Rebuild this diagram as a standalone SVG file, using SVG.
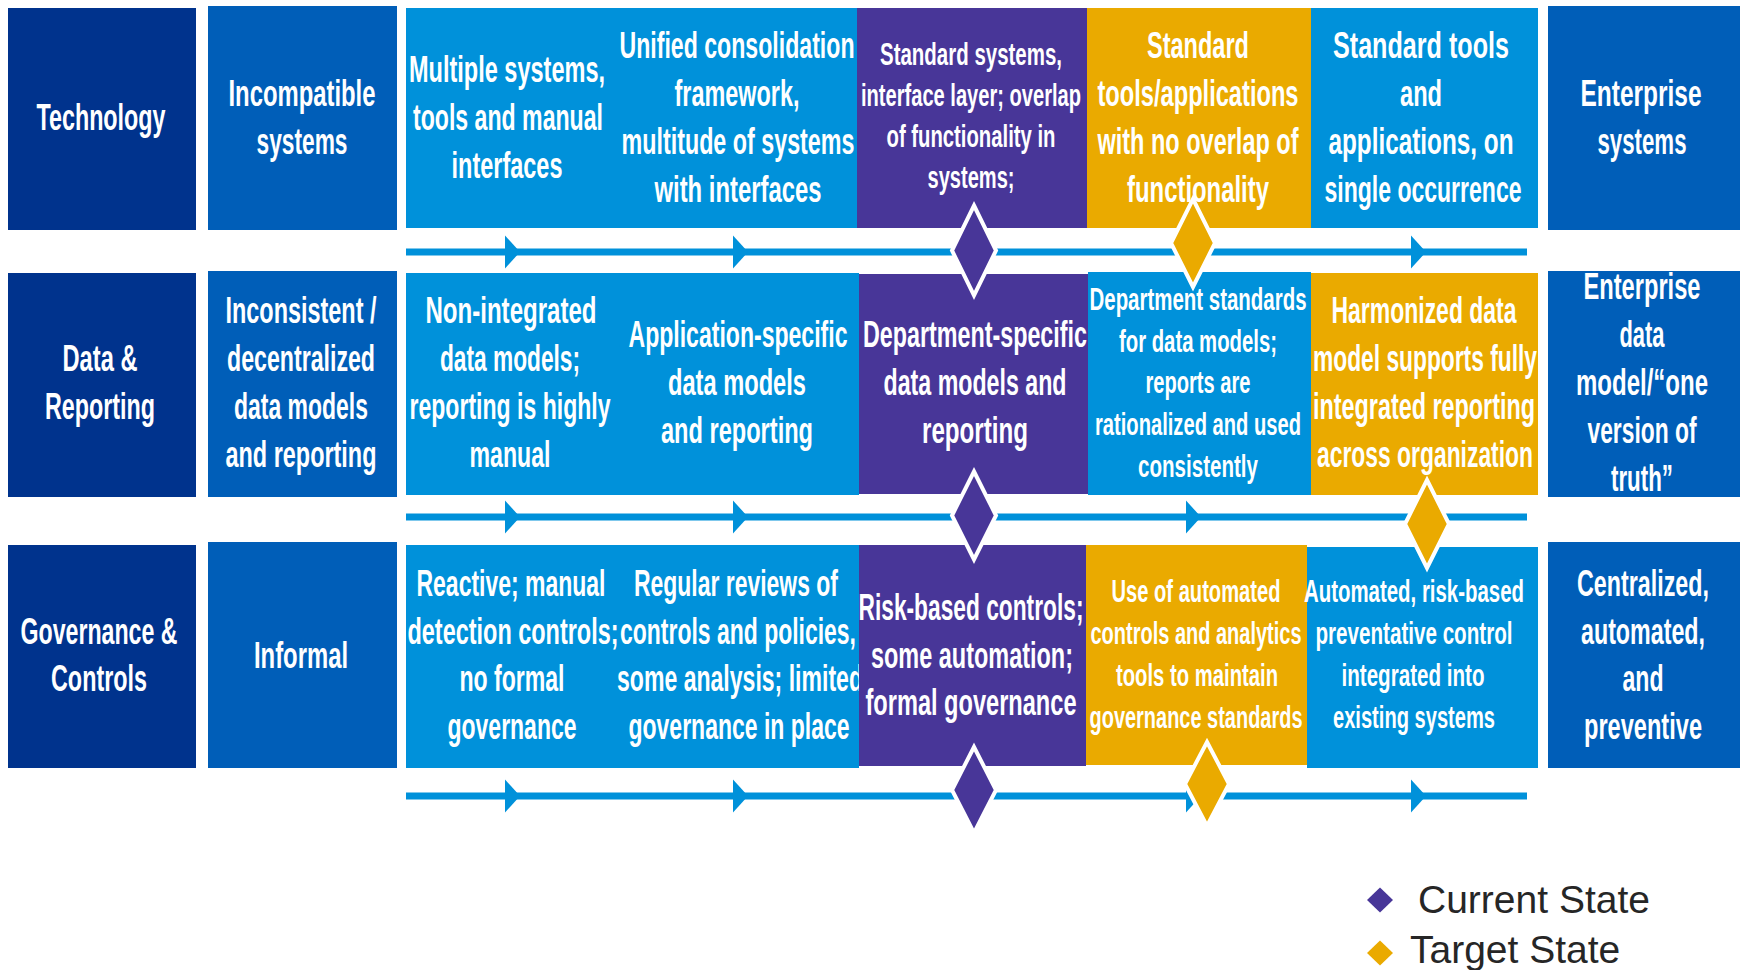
<svg xmlns="http://www.w3.org/2000/svg" xmlns:xlink="http://www.w3.org/1999/xlink" width="1743" height="970" viewBox="0 0 1743 970">
<style>
.navy{fill:#00338D}
.mid{fill:#005EB8}
.lb{fill:#0091DA}
.pu{fill:#483698}
.ye{fill:#EAAA00}
.t{font-family:"Liberation Sans Narrow","Liberation Sans","DejaVu Sans Condensed",sans-serif;font-weight:bold;font-size:36px;fill:#fff;text-anchor:middle}
.s{font-size:31px}
.line{stroke:#0091DA;stroke-width:7;fill:none}
.arrow{fill:#0091DA}
.cur{fill:#483698;stroke:#fff;stroke-width:4;stroke-linejoin:miter}
.tgt{fill:#EAAA00;stroke:#fff;stroke-width:4;stroke-linejoin:miter}
.lg{font-family:"Liberation Sans",Arial,sans-serif;font-size:39px;fill:#262626}
</style>
<defs>
<path id="arrow" d="M0,-16.5 L15,0 L0,16.5 Z"/>
</defs>
<rect width="1743" height="970" fill="#fff"/>

<!-- Row 1: Technology -->
<g id="tech-category">
<rect class="navy" x="8" y="8" width="188" height="222"/>
<text class="t" x="101" y="130" textLength="129" lengthAdjust="spacingAndGlyphs">Technology</text>
</g>
<g id="tech-baseline">
<rect class="mid" x="208" y="6" width="189" height="224"/>
<text class="t" x="302" y="106" textLength="147" lengthAdjust="spacingAndGlyphs">Incompatible</text>
<text class="t" x="302" y="154" textLength="91" lengthAdjust="spacingAndGlyphs">systems</text>
</g>
<g id="tech-stage1">
<rect class="lb" x="406" y="8" width="451" height="220"/>
<text class="t" x="507" y="82" textLength="196" lengthAdjust="spacingAndGlyphs">Multiple systems,</text>
<text class="t" x="508" y="130" textLength="190" lengthAdjust="spacingAndGlyphs">tools and manual</text>
<text class="t" x="507" y="178" textLength="111" lengthAdjust="spacingAndGlyphs">interfaces</text>
</g>
<g id="tech-stage2">
<text class="t" x="737" y="58" textLength="235" lengthAdjust="spacingAndGlyphs">Unified consolidation</text>
<text class="t" x="737" y="106" textLength="125" lengthAdjust="spacingAndGlyphs">framework,</text>
<text class="t" x="738" y="154" textLength="233" lengthAdjust="spacingAndGlyphs">multitude of systems</text>
<text class="t" x="738" y="202" textLength="167" lengthAdjust="spacingAndGlyphs">with interfaces</text>
</g>
<g id="tech-stage3">
<rect class="pu" x="857" y="8" width="230" height="220"/>
<text class="t s" x="971" y="65" textLength="182" lengthAdjust="spacingAndGlyphs">Standard systems,</text>
<text class="t s" x="971" y="106" textLength="220" lengthAdjust="spacingAndGlyphs">interface layer; overlap</text>
<text class="t s" x="971" y="147" textLength="169" lengthAdjust="spacingAndGlyphs">of functionality in</text>
<text class="t s" x="971" y="188" textLength="87" lengthAdjust="spacingAndGlyphs">systems;</text>
</g>
<g id="tech-stage4">
<rect class="ye" x="1087" y="8" width="224" height="220"/>
<text class="t" x="1198" y="58" textLength="102" lengthAdjust="spacingAndGlyphs">Standard</text>
<text class="t" x="1198" y="106" textLength="201" lengthAdjust="spacingAndGlyphs">tools/applications</text>
<text class="t" x="1198" y="154" textLength="201" lengthAdjust="spacingAndGlyphs">with no overlap of</text>
<text class="t" x="1198" y="202" textLength="142" lengthAdjust="spacingAndGlyphs">functionality</text>
</g>
<g id="tech-stage5">
<rect class="lb" x="1311" y="8" width="227" height="220"/>
<text class="t" x="1421" y="58" textLength="176" lengthAdjust="spacingAndGlyphs">Standard tools</text>
<text class="t" x="1421" y="106" textLength="42" lengthAdjust="spacingAndGlyphs">and</text>
<text class="t" x="1421" y="154" textLength="185" lengthAdjust="spacingAndGlyphs">applications, on</text>
<text class="t" x="1423" y="202" textLength="197" lengthAdjust="spacingAndGlyphs">single occurrence</text>
</g>
<g id="tech-target">
<rect class="mid" x="1548" y="6" width="192" height="224"/>
<text class="t" x="1641" y="106" textLength="121" lengthAdjust="spacingAndGlyphs">Enterprise</text>
<text class="t" x="1642" y="154" textLength="89" lengthAdjust="spacingAndGlyphs">systems</text>
</g>

<!-- Row 2: Data & Reporting -->
<g id="data-category">
<rect class="navy" x="8" y="273" width="188" height="224"/>
<text class="t" x="100" y="371" textLength="75" lengthAdjust="spacingAndGlyphs">Data &amp;</text>
<text class="t" x="100" y="419" textLength="110" lengthAdjust="spacingAndGlyphs">Reporting</text>
</g>
<g id="data-baseline">
<rect class="mid" x="208" y="271" width="189" height="226"/>
<text class="t" x="301" y="323" textLength="151" lengthAdjust="spacingAndGlyphs">Inconsistent /</text>
<text class="t" x="301" y="371" textLength="148" lengthAdjust="spacingAndGlyphs">decentralized</text>
<text class="t" x="301" y="419" textLength="134" lengthAdjust="spacingAndGlyphs">data models</text>
<text class="t" x="301" y="467" textLength="151" lengthAdjust="spacingAndGlyphs">and reporting</text>
</g>
<g id="data-stage1">
<rect class="lb" x="406" y="273" width="453" height="222"/>
<text class="t" x="511" y="323" textLength="171" lengthAdjust="spacingAndGlyphs">Non-integrated</text>
<text class="t" x="510" y="371" textLength="140" lengthAdjust="spacingAndGlyphs">data models;</text>
<text class="t" x="510" y="419" textLength="201" lengthAdjust="spacingAndGlyphs">reporting is highly</text>
<text class="t" x="510" y="467" textLength="81" lengthAdjust="spacingAndGlyphs">manual</text>
</g>
<g id="data-stage2">
<text class="t" x="738" y="347" textLength="219" lengthAdjust="spacingAndGlyphs">Application-specific</text>
<text class="t" x="737" y="395" textLength="138" lengthAdjust="spacingAndGlyphs">data models</text>
<text class="t" x="737" y="443" textLength="152" lengthAdjust="spacingAndGlyphs">and reporting</text>
</g>
<g id="data-stage3">
<rect class="pu" x="859" y="274" width="229" height="220"/>
<text class="t" x="975" y="347" textLength="224" lengthAdjust="spacingAndGlyphs">Department-specific</text>
<text class="t" x="975" y="395" textLength="183" lengthAdjust="spacingAndGlyphs">data models and</text>
<text class="t" x="975" y="443" textLength="106" lengthAdjust="spacingAndGlyphs">reporting</text>
</g>
<g id="data-stage4">
<rect class="lb" x="1088" y="272" width="223" height="223"/>
<text class="t s" x="1198" y="310" textLength="217" lengthAdjust="spacingAndGlyphs">Department standards</text>
<text class="t s" x="1198" y="352" textLength="158" lengthAdjust="spacingAndGlyphs">for data models;</text>
<text class="t s" x="1198" y="393" textLength="105" lengthAdjust="spacingAndGlyphs">reports are</text>
<text class="t s" x="1198" y="435" textLength="206" lengthAdjust="spacingAndGlyphs">rationalized and used</text>
<text class="t s" x="1198" y="477" textLength="120" lengthAdjust="spacingAndGlyphs">consistently</text>
</g>
<g id="data-stage5">
<rect class="ye" x="1311" y="273" width="227" height="222"/>
<text class="t" x="1424" y="323" textLength="185" lengthAdjust="spacingAndGlyphs">Harmonized data</text>
<text class="t" x="1425" y="371" textLength="224" lengthAdjust="spacingAndGlyphs">model  supports fully</text>
<text class="t" x="1424" y="419" textLength="222" lengthAdjust="spacingAndGlyphs">integrated reporting</text>
<text class="t" x="1425" y="467" textLength="216" lengthAdjust="spacingAndGlyphs">across organization</text>
</g>
<g id="data-target">
<rect class="mid" x="1548" y="271" width="192" height="226"/>
<text class="t" x="1642" y="299" textLength="117" lengthAdjust="spacingAndGlyphs">Enterprise</text>
<text class="t" x="1642" y="347" textLength="45" lengthAdjust="spacingAndGlyphs">data</text>
<text class="t" x="1642" y="395" textLength="132" lengthAdjust="spacingAndGlyphs">model/“one</text>
<text class="t" x="1642" y="443" textLength="109" lengthAdjust="spacingAndGlyphs">version of</text>
<text class="t" x="1642" y="491" textLength="62" lengthAdjust="spacingAndGlyphs">truth”</text>
</g>

<!-- Row 3: Governance & Controls -->
<g id="gov-category">
<rect class="navy" x="8" y="545" width="188" height="223"/>
<text class="t" x="99" y="644" textLength="157" lengthAdjust="spacingAndGlyphs">Governance &amp;</text>
<text class="t" x="99" y="691" textLength="96" lengthAdjust="spacingAndGlyphs">Controls</text>
</g>
<g id="gov-baseline">
<rect class="mid" x="208" y="542" width="189" height="226"/>
<text class="t" x="301" y="668" textLength="94" lengthAdjust="spacingAndGlyphs">Informal</text>
</g>
<g id="gov-stage1">
<rect class="lb" x="406" y="545" width="453" height="223"/>
<text class="t" x="511" y="596" textLength="189" lengthAdjust="spacingAndGlyphs">Reactive; manual</text>
<text class="t" x="513" y="644" textLength="211" lengthAdjust="spacingAndGlyphs">detection controls;</text>
<text class="t" x="512" y="691" textLength="105" lengthAdjust="spacingAndGlyphs">no formal</text>
<text class="t" x="512" y="739" textLength="129" lengthAdjust="spacingAndGlyphs">governance</text>
</g>
<g id="gov-stage2">
<text class="t" x="736" y="596" textLength="204" lengthAdjust="spacingAndGlyphs">Regular reviews of</text>
<text class="t" x="738" y="644" textLength="236" lengthAdjust="spacingAndGlyphs">controls and policies,</text>
<text class="t" x="740" y="691" textLength="246" lengthAdjust="spacingAndGlyphs">some analysis; limited</text>
<text class="t" x="739" y="739" textLength="221" lengthAdjust="spacingAndGlyphs">governance in place</text>
</g>
<g id="gov-stage3">
<rect class="pu" x="859" y="545" width="227" height="221"/>
<text class="t" x="971" y="620" textLength="225" lengthAdjust="spacingAndGlyphs">Risk-based controls;</text>
<text class="t" x="972" y="668" textLength="202" lengthAdjust="spacingAndGlyphs">some automation;</text>
<text class="t" x="971" y="715" textLength="211" lengthAdjust="spacingAndGlyphs">formal governance</text>
</g>
<g id="gov-stage4">
<rect class="ye" x="1086" y="545" width="221" height="220"/>
<text class="t s" x="1196" y="602" textLength="169" lengthAdjust="spacingAndGlyphs">Use of automated</text>
<text class="t s" x="1196" y="644" textLength="211" lengthAdjust="spacingAndGlyphs">controls and analytics</text>
<text class="t s" x="1197" y="686" textLength="162" lengthAdjust="spacingAndGlyphs">tools to maintain</text>
<text class="t s" x="1196" y="728" textLength="213" lengthAdjust="spacingAndGlyphs">governance standards</text>
</g>
<g id="gov-stage5">
<rect class="lb" x="1307" y="547" width="231" height="221"/>
<text class="t s" x="1414" y="602" textLength="220" lengthAdjust="spacingAndGlyphs">Automated, risk-based</text>
<text class="t s" x="1414" y="644" textLength="197" lengthAdjust="spacingAndGlyphs">preventative control</text>
<text class="t s" x="1413" y="686" textLength="143" lengthAdjust="spacingAndGlyphs">integrated into</text>
<text class="t s" x="1414" y="728" textLength="162" lengthAdjust="spacingAndGlyphs">existing systems</text>
</g>
<g id="gov-target">
<rect class="mid" x="1548" y="542" width="192" height="226"/>
<text class="t" x="1643" y="596" textLength="132" lengthAdjust="spacingAndGlyphs">Centralized,</text>
<text class="t" x="1643" y="644" textLength="124" lengthAdjust="spacingAndGlyphs">automated,</text>
<text class="t" x="1643" y="691" textLength="41" lengthAdjust="spacingAndGlyphs">and</text>
<text class="t" x="1643" y="739" textLength="118" lengthAdjust="spacingAndGlyphs">preventive</text>
</g>

<!-- Connectors -->
<g id="connectors">
<line class="line" x1="406" y1="252" x2="1527" y2="252"/>
<line class="line" x1="406" y1="517" x2="1527" y2="517"/>
<line class="line" x1="406" y1="796" x2="1527" y2="796"/>
<use href="#arrow" xlink:href="#arrow" class="arrow" x="505" y="252"/>
<use href="#arrow" xlink:href="#arrow" class="arrow" x="733" y="252"/>
<use href="#arrow" xlink:href="#arrow" class="arrow" x="1411" y="252"/>
<use href="#arrow" xlink:href="#arrow" class="arrow" x="505" y="517"/>
<use href="#arrow" xlink:href="#arrow" class="arrow" x="733" y="517"/>
<use href="#arrow" xlink:href="#arrow" class="arrow" x="1186" y="517"/>
<use href="#arrow" xlink:href="#arrow" class="arrow" x="505" y="796"/>
<use href="#arrow" xlink:href="#arrow" class="arrow" x="733" y="796"/>
<use href="#arrow" xlink:href="#arrow" class="arrow" x="1186" y="796"/>
<use href="#arrow" xlink:href="#arrow" class="arrow" x="1411" y="796"/>
</g>

<!-- State markers -->
<g id="state-markers">
<polygon class="cur" points="974,205.5 996,250.5 974,295.5 952,250.5"/>
<polygon class="cur" points="974,471.5 996,515.5 974,559.5 952,515.5"/>
<polygon class="cur" points="974,747 996,790 974,833 952,790"/>
<polygon class="tgt" points="1193,199 1215,243 1193,287 1171,243"/>
<polygon class="tgt" points="1427,480 1449,524 1427,568 1405,524"/>
<polygon class="tgt" points="1207,742 1229,784 1207,826 1185,784"/>
</g>

<!-- Legend -->
<g id="legend">
<polygon fill="#483698" points="1380,887.5 1393,900 1380,912.5 1367,900"/>
<text class="lg" x="1418" y="913">Current State</text>
<polygon fill="#EAAA00" points="1380,940.5 1393,953 1380,965.5 1367,953"/>
<text class="lg" x="1410" y="963">Target State</text>
</g>
</svg>
